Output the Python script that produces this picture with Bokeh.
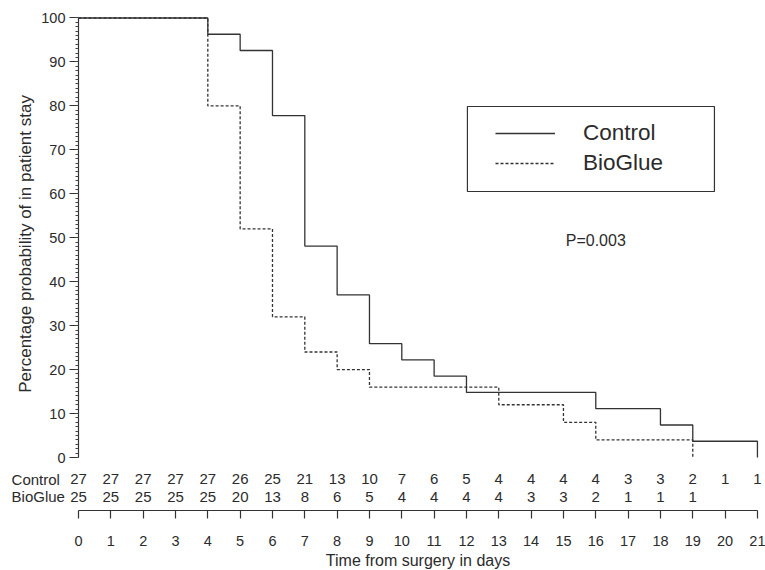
from bokeh.plotting import figure
from bokeh.models import (Range1d, FixedTicker, Legend, LegendItem, Label,
                          ColumnDataSource, BoxAnnotation, LinearAxis)
from bokeh.core.properties import value
from bokeh.embed import file_html
from bokeh.resources import INLINE
import math

# ---------------- data ----------------
days = list(range(22))

control_time = [0, 4, 5, 6, 7, 8, 9, 10, 11, 12, 16, 18, 19, 21]
control_pct = [100, 96.3, 92.6, 77.8, 48.1, 37.0, 25.9, 22.2, 18.5, 14.8, 11.1, 7.4, 3.7, 0]

bioglue_time = [0, 4, 5, 6, 7, 8, 9, 13, 15, 16, 19]
bioglue_pct = [100, 80, 52, 32, 24, 20, 16, 12, 8, 4, 0]

control_at_risk = [27, 27, 27, 27, 27, 26, 25, 21, 13, 10, 7, 6, 5, 4, 4, 4, 4, 3, 3, 2, 1, 1]
bioglue_at_risk = [25, 25, 25, 25, 25, 20, 13, 8, 6, 5, 4, 4, 4, 4, 3, 3, 2, 1, 1, 1]

group_names = ["Control", "BioGlue"]
y_ticks = [0, 10, 20, 30, 40, 50, 60, 70, 80, 90, 100]
y_minor_ticks = list(range(0, 101))
p_value_text = "P=0.003"
y_title = "Percentage probability of in patient stay"
x_title = "Time from surgery in days"

# ---------------- style ----------------
FONT = "Liberation Sans"
INK = "#2b2b2b"
LINE = "#333333"

# the frame fills the whole canvas; axes sit at fixed data positions
p = figure(width=765, height=570, output_backend="svg", toolbar_location=None,
           x_range=Range1d(-2.4126, 21.2494), y_range=Range1d(-25.71, 103.98),
           x_axis_location=None, y_axis_location=None, min_border=0,
           background_fill_color="white", border_fill_color="white")
p.outline_line_color = None
p.grid.visible = False

# y axis (at day 0) with fine minor ticks
ya = LinearAxis(fixed_location=0, bounds=(0, 100),
                ticker=FixedTicker(ticks=y_ticks, minor_ticks=y_minor_ticks))
ya.axis_line_color = LINE
ya.axis_line_width = 1.2
ya.major_tick_line_color = LINE
ya.major_tick_line_width = 1.2
ya.major_tick_out = 9
ya.major_tick_in = 0
ya.minor_tick_line_color = "#444444"
ya.minor_tick_line_width = 1.1
ya.minor_tick_out = 3
ya.minor_tick_in = 0
ya.major_label_standoff = 4
ya.major_label_text_font = FONT
ya.major_label_text_font_size = "14.5px"
ya.major_label_text_color = INK
p.add_layout(ya, "left")

# x axis (below the number-at-risk table)
xa = LinearAxis(fixed_location=-12.06, bounds=(0, 21), ticker=FixedTicker(ticks=days))
xa.axis_line_color = LINE
xa.axis_line_width = 1.2
xa.major_tick_line_color = LINE
xa.major_tick_line_width = 1.2
xa.major_tick_out = 8
xa.major_tick_in = 0
xa.minor_tick_line_color = None
xa.major_label_standoff = 17
xa.major_label_text_font = FONT
xa.major_label_text_font_size = "14.5px"
xa.major_label_text_color = INK
xa.axis_label = x_title
xa.axis_label_text_font = FONT
xa.axis_label_text_font_size = "16px"
xa.axis_label_text_font_style = "normal"
xa.axis_label_text_color = INK
xa.axis_label_standoff = 3
p.add_layout(xa, "below")

# survival curves
r_control = p.step(control_time, control_pct, mode="after", line_color=LINE, line_width=1.3)
r_bioglue = p.step(bioglue_time, bioglue_pct, mode="after", line_color=LINE, line_width=1.3,
                   line_dash="3 2")

# number-at-risk table
row_y = [-5.0, -8.9]
for counts, ry, name in zip([control_at_risk, bioglue_at_risk], row_y, group_names):
    src = ColumnDataSource(dict(x=days[:len(counts)], y=[ry] * len(counts),
                                n=[str(c) for c in counts]))
    p.text(x="x", y="y", text="n", source=src, text_align="center",
           text_baseline="middle", text_font=value(FONT), text_font_size="15px",
           text_color=INK)
    p.add_layout(Label(x=-2.07, y=ry, text=name, text_align="left", text_baseline="middle",
                       text_font=FONT, text_font_size="15px", text_color=INK))

# y title
p.add_layout(Label(x=-1.64, y=48.6, text=y_title, angle=math.pi / 2, text_align="center",
                   text_baseline="middle", text_font=FONT, text_font_size="17px",
                   text_color=INK))

# p value
p.add_layout(Label(x=16.0, y=49.4, text=p_value_text, text_align="center",
                   text_baseline="middle", text_font=FONT, text_font_size="16px",
                   text_color=INK))

# legend box and legend
p.add_layout(BoxAnnotation(left=12.03, right=19.67, top=79.86, bottom=60.52,
                           fill_alpha=0, line_color=LINE, line_alpha=1, line_width=1.2))
legend = Legend(items=[LegendItem(label=group_names[0], renderers=[r_control]),
                       LegendItem(label=group_names[1], renderers=[r_bioglue])],
                location=(495, 394), padding=0, margin=0, spacing=4,
                glyph_width=60, glyph_height=24, label_height=24, label_standoff=28,
                border_line_color=None, background_fill_alpha=0,
                label_text_font=FONT, label_text_font_size="22.5px", label_text_color=INK)
p.add_layout(legend)

open("out.html", "w").write(file_html(p, INLINE))
